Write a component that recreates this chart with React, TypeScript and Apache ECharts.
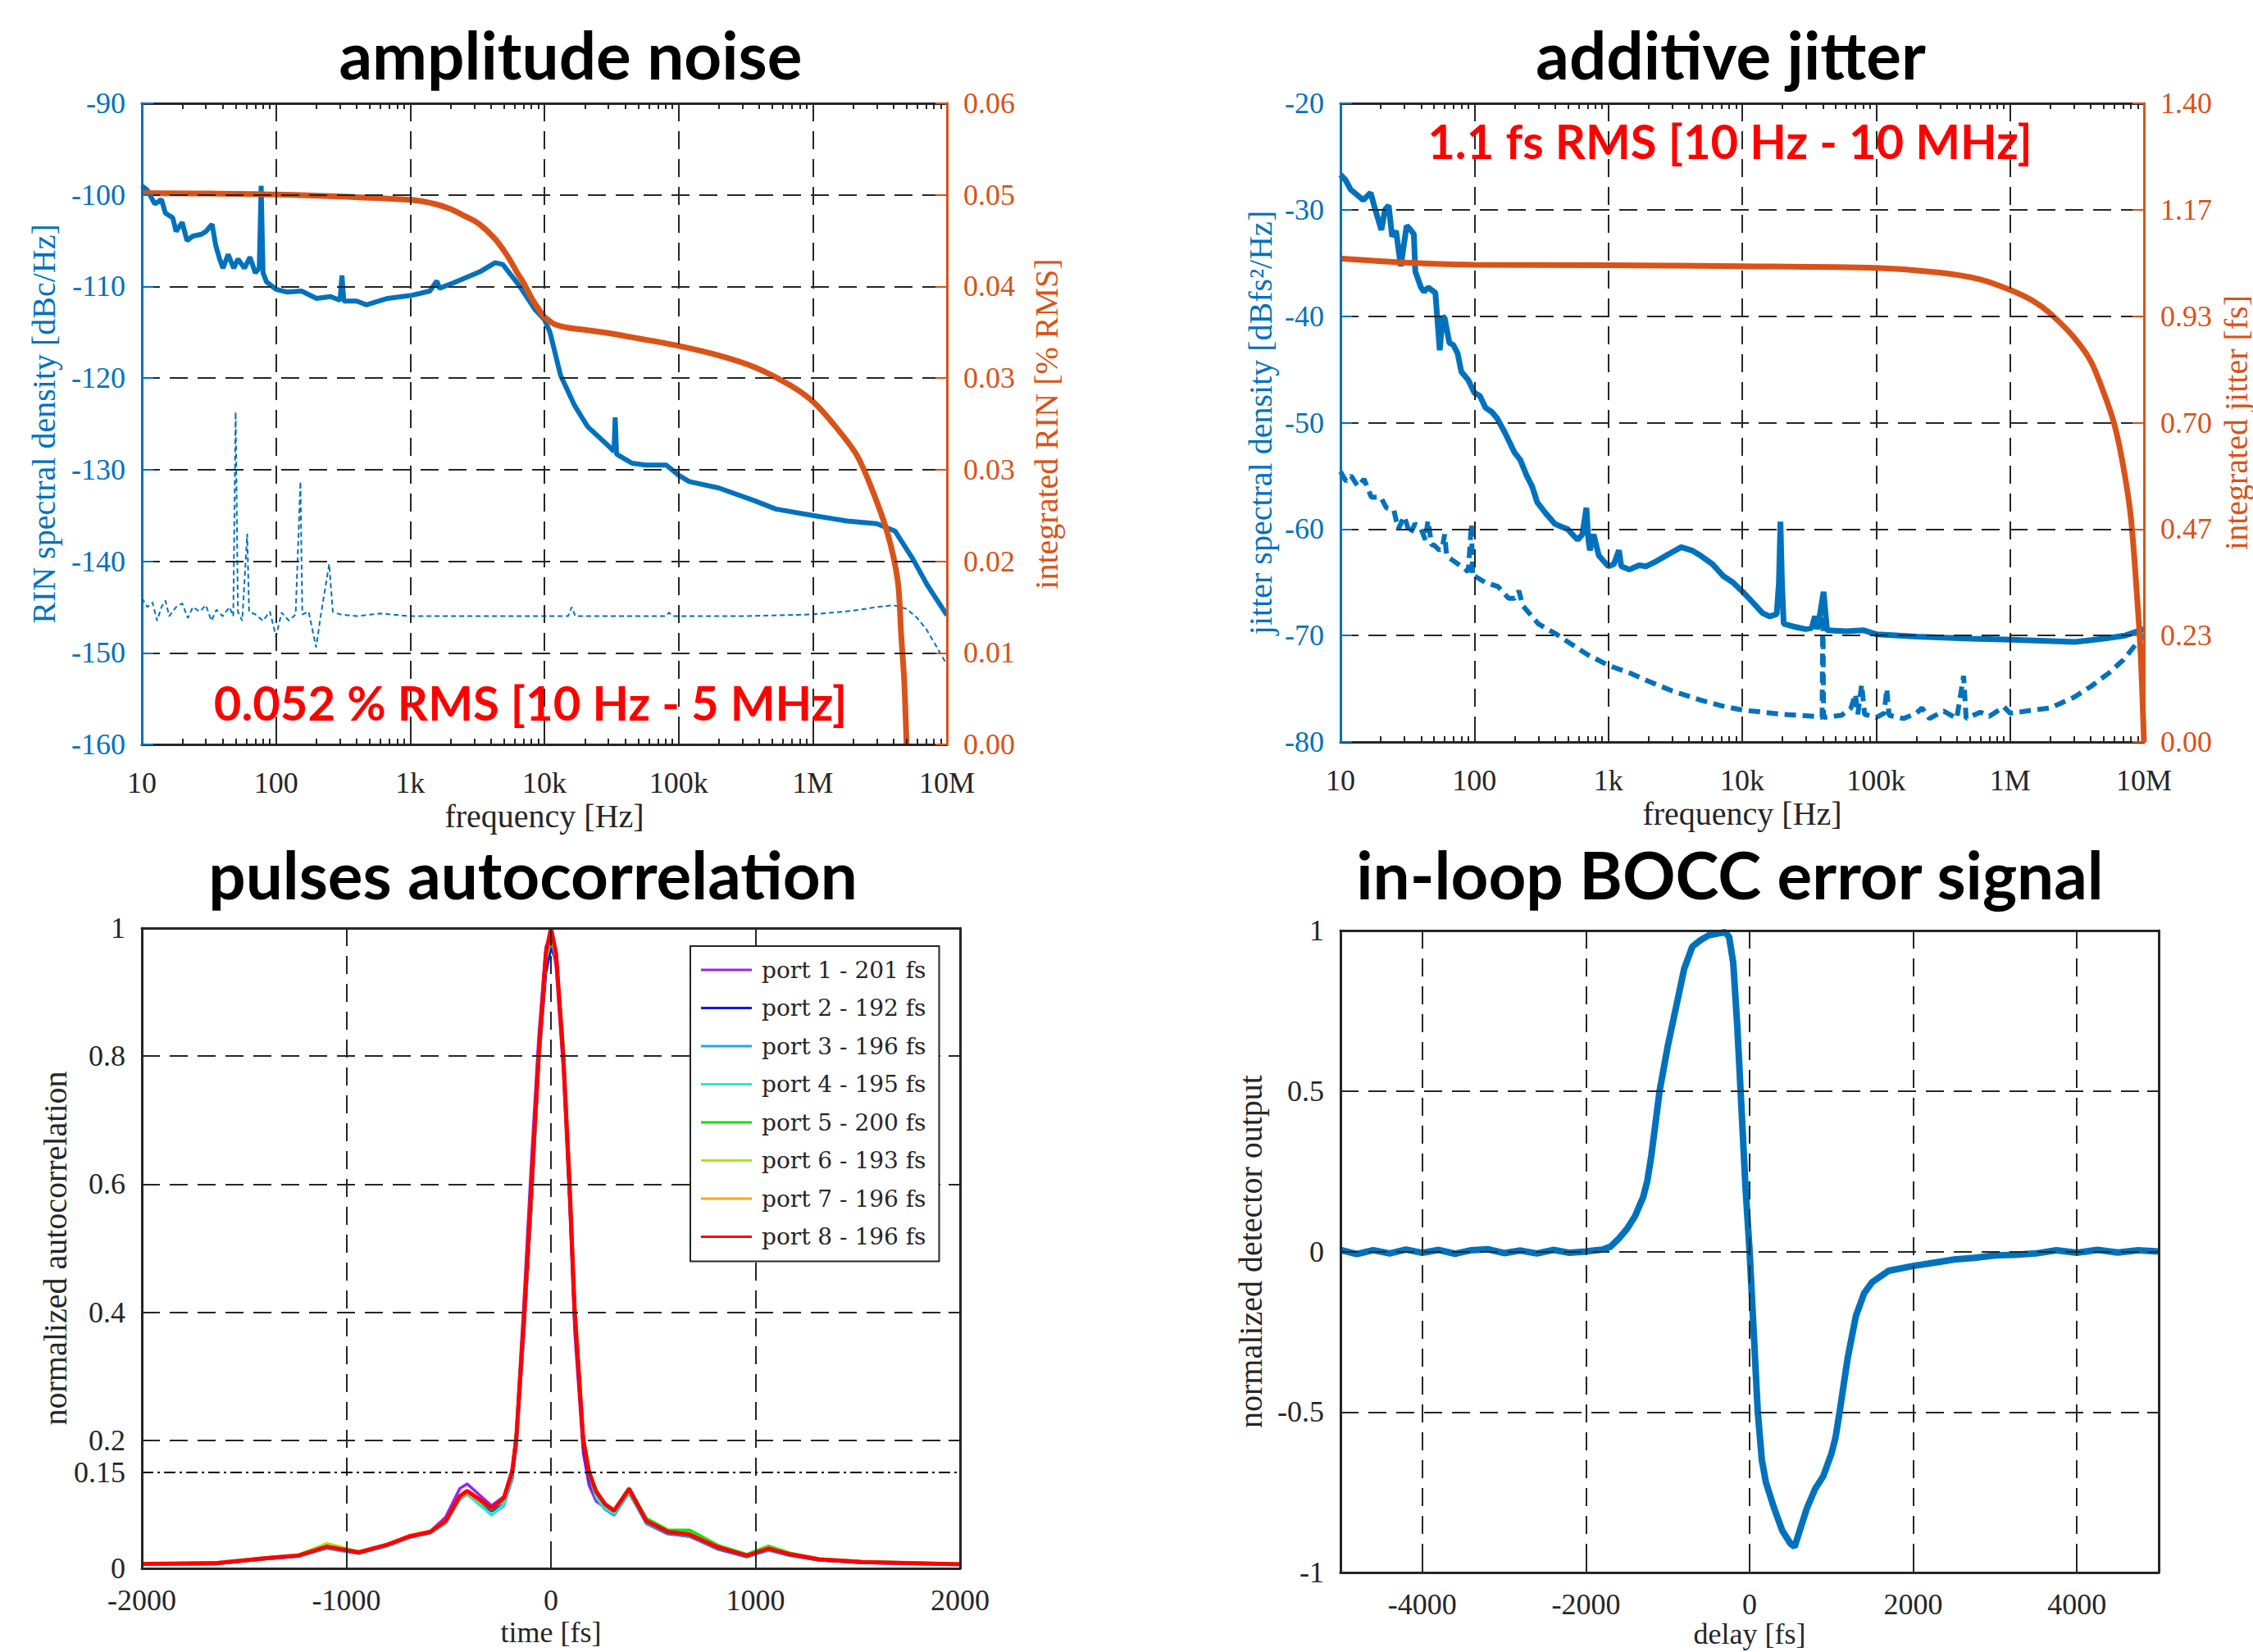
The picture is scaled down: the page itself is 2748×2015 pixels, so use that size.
import React, { useEffect, useRef } from 'react';
import * as echarts from 'echarts';

const BLUE = '#0072BD';
const ORANGE = '#D95319';
const INK = '#262626';
const SERIF = "'Liberation Serif', 'Times New Roman', serif";
const SANS = "Lato, 'Open Sans', sans-serif";

// ---------- tick labels ----------
const FREQ_TICK_LABELS = ['10', '100', '1k', '10k', '100k', '1M', '10M'];
const LOG_DECADES = [1, 2, 3, 4, 5, 6];
const MINOR_MULTS = [2, 3, 4, 5, 6, 7, 8, 9];
const BOCC_TICKS = [-4000, -2000, 0, 2000, 4000];

// ---------- amplitude noise ----------
const RIN_PSD: [number, number][] = [
  [10, -99], [11, -99.5], [12.5, -101], [14, -100.5], [15, -102], [17, -102.5], [18, -104], [20, -103],
  [21.7, -105], [24, -104.5], [27.8, -104.3], [30, -104], [33.4, -103.2], [35.5, -105.5], [38, -107],
  [40.2, -108], [44, -106.5], [48.4, -108], [52, -107], [58.2, -108], [64, -106.8], [70, -108.5],
  [75, -108], [77.5, -99], [80, -108.5], [85, -109.5], [100, -110.3], [120, -110.6], [155, -110.5],
  [200, -111.3], [255, -111.1], [300, -111.5], [310, -108.8], [320, -111.6], [400, -111.6], [470, -112],
  [680, -111.3], [1000, -111], [1400, -110.5], [1580, -109.4], [1650, -110.2], [2100, -109.6],
  [3300, -108.4], [4300, -107.4], [4900, -107.6], [6500, -109.9], [8500, -112.5], [10000, -113.6],
  [11000, -115], [13200, -119.7], [16800, -123], [21000, -125.3], [31000, -127.6], [33000, -128],
  [33700, -124.3], [34500, -128.3], [45000, -129.3], [57000, -129.5], [81000, -129.5], [100000, -130.6],
  [120000, -131.3], [200000, -132], [370000, -133.4], [530000, -134.3], [1e6, -135], [1.8e6, -135.6],
  [3e6, -135.9], [4.1e6, -136.7], [5.6e6, -139.8], [7.2e6, -142.7], [1e7, -145.9],
];
const RIN_FLOOR: [number, number][] = [
  [10, -144], [11, -145], [12, -144.5], [13, -146.5], [14, -145], [15, -144.3], [16, -146], [18, -145],
  [20, -144.6], [22, -146.2], [24, -145], [27, -145.5], [30, -144.8], [33, -146.5], [36, -145.3],
  [40, -146], [45, -145], [48, -146], [50, -123.7], [52, -145.5], [56, -146.5], [61, -137], [63, -145.5],
  [70, -145.8], [80, -146.5], [90, -145.5], [100, -148.2], [110, -145.6], [125, -146.5], [140, -145.8],
  [152, -131.3], [157, -145.8], [175, -145.5], [199, -149.4], [215, -146], [249, -140.3], [265, -145.5],
  [300, -145.8], [400, -146], [600, -145.7], [1000, -146], [3000, -146], [10000, -146], [15000, -146],
  [16000, -145], [17000, -146], [80000, -146], [85000, -145.6], [90000, -146], [300000, -146],
  [1e6, -145.8], [2e6, -145.4], [3e6, -145], [4e6, -144.8], [5e6, -145.2], [6e6, -146.2], [7e6, -147.4],
  [8.5e6, -149.5], [1e7, -151.3],
];
const RIN_INTEGRATED: [number, number][] = [
  [10, 0.0516], [100, 0.05146], [1000, 0.05096], [1500, 0.0506], [2000, 0.0501], [2500, 0.0495],
  [3000, 0.0490], [3500, 0.0484], [4000, 0.0477], [4500, 0.0470], [5000, 0.0462], [5500, 0.0454],
  [6300, 0.0441], [7000, 0.0432], [8000, 0.0418], [9000, 0.0408], [10000, 0.0400], [11000, 0.0396],
  [12000, 0.0393], [15000, 0.0390], [20000, 0.0388], [30000, 0.0385], [50000, 0.0380], [100000, 0.0373],
  [200000, 0.0364], [370000, 0.0353], [680000, 0.0336], [1e6, 0.0321], [1.4e6, 0.0301], [2.1e6, 0.0272],
  [2.7e6, 0.0242], [3.6e6, 0.0198], [4.3e6, 0.0153], [4.55e6, 0.0104], [4.8e6, 0.006], [5e6, 0],
];

// ---------- additive jitter ----------
const JIT_PSD: [number, number][] = [
  [10, -26.7], [10.9, -27.2], [11.9, -28.1], [13, -28.5], [14.8, -29.1], [16.8, -28.4], [18.1, -29.9],
  [20.2, -31.9], [21.5, -30], [22.9, -29.6], [24.3, -32.5], [26, -32], [28.2, -35.3], [31.2, -31.5],
  [33, -31.8], [35.3, -32.3], [36.2, -35.8], [39.9, -37.3], [42, -37.7], [45.2, -37.3], [51.1, -37.8],
  [55.1, -43.2], [58, -40], [60, -40.2], [65, -42.5], [69.6, -42.7], [75, -43.5], [79.8, -45.2],
  [90, -46], [100, -47.2], [110, -47.5], [121, -48.6], [135, -49], [148, -49.6], [170, -51], [199, -52.8],
  [220, -53.5], [246, -55], [270, -56], [295, -57.5], [340, -58.5], [398, -59.5], [450, -59.8],
  [497, -60], [540, -60.5], [590, -61], [640, -60.5], [686, -58], [710, -61], [729, -62], [776, -60.5],
  [850, -62.5], [1000, -63.5], [1100, -63.3], [1200, -62], [1250, -63.5], [1440, -63.8], [1700, -63.4],
  [1910, -63.5], [2300, -63], [2870, -62.3], [3500, -61.7], [4200, -62], [4900, -62.5], [6000, -63.3],
  [7200, -64.4], [8500, -65], [10100, -65.9], [12000, -66.9], [14200, -67.9], [16000, -68.2],
  [18100, -68], [18800, -65], [19300, -59.3], [19800, -65], [20400, -68.9], [25000, -69.2],
  [29600, -69.4], [33000, -69.3], [34900, -68.2], [36500, -69.4], [40500, -65.9], [43000, -69.5],
  [60000, -69.6], [80000, -69.5], [102000, -69.9], [202000, -70.1], [509000, -70.3], [1.02e6, -70.4],
  [3.06e6, -70.6], [5e6, -70.3], [7.25e6, -70], [1e7, -69.4],
];
const JIT_FLOOR: [number, number][] = [
  [10, -54.6], [11, -55.5], [12, -55], [13.5, -56], [15, -55.3], [17, -57], [20, -57], [22, -58],
  [25, -58.2], [27, -60], [30, -58.8], [33, -60.5], [36, -59.5], [40, -60], [43, -61], [45, -59.2],
  [48, -61.5], [50, -61.5], [55, -62], [58, -61.5], [60, -60.5], [62, -62.5], [70, -63], [80, -63.5],
  [90, -64], [95, -59.5], [97, -64.5], [100, -64.4], [120, -65], [150, -65.4], [180, -66.5], [200, -66.5],
  [215, -65.8], [230, -67.2], [300, -68.9], [400, -69.8], [500, -70.6], [700, -71.8], [1000, -72.8],
  [1500, -73.6], [2000, -74.3], [3000, -75.2], [5000, -76.1], [7000, -76.6], [10000, -77], [20000, -77.4],
  [35000, -77.6], [39500, -77.7], [40000, -66.4], [40500, -77.7], [55000, -77.5], [65000, -76.8],
  [70000, -75.5], [73000, -77.4], [78000, -74.6], [82000, -77.4], [100000, -77.7], [115000, -77.3],
  [120000, -75], [125000, -77.5], [160000, -77.8], [200000, -77.3], [220000, -76.8], [250000, -77.8],
  [320000, -77.1], [400000, -77.8], [450000, -73.8], [470000, -77.8], [600000, -77.2], [700000, -77.6],
  [900000, -76.7], [1e6, -77.3], [2e6, -76.8], [3e6, -75.8], [4e6, -74.8], [5.5e6, -73.5], [7e6, -72.3],
  [1e7, -69.9],
];
const JIT_INTEGRATED: [number, number][] = [
  [10, 1.06], [30, 1.051], [100, 1.046], [1000, 1.045], [10000, 1.043], [100000, 1.039], [300000, 1.029],
  [600000, 1.014], [1e6, 0.991], [1.5e6, 0.966], [2e6, 0.939], [3e6, 0.887], [4e6, 0.835], [5e6, 0.766],
  [6e6, 0.697], [7e6, 0.605], [8e6, 0.49], [9e6, 0.294], [9.5e6, 0.179], [1e7, 0],
];

// ---------- pulses autocorrelation ----------
const AC_TIME = [-2000, -1640, -1390, -1235, -1095, -940, -800, -690, -590, -515, -445, -410, -350, -290,
  -230, -190, -170, -130, -95, -60, -25, 0, 25, 60, 91, 116, 158, 186, 221, 265, 309, 382, 467, 572, 677,
  817, 958, 1063, 1168, 1310, 1520, 2000];
const PORT1 = [0.007, 0.008, 0.015, 0.02, 0.033, 0.024, 0.036, 0.05, 0.058, 0.08, 0.125, 0.132, 0.115, 0.098,
  0.112, 0.155, 0.21, 0.43, 0.64, 0.83, 0.97, 0.99, 0.94, 0.78, 0.57, 0.37, 0.18, 0.13, 0.105, 0.095, 0.088,
  0.118, 0.072, 0.055, 0.05, 0.032, 0.019, 0.03, 0.021, 0.013, 0.009, 0.006];
const PORT2 = [0.006, 0.007, 0.015, 0.019, 0.032, 0.024, 0.036, 0.049, 0.056, 0.072, 0.11, 0.118, 0.1, 0.09,
  0.1, 0.14, 0.19, 0.38, 0.57, 0.79, 0.93, 0.97, 0.95, 0.8, 0.58, 0.39, 0.19, 0.14, 0.11, 0.095, 0.087, 0.12,
  0.07, 0.054, 0.05, 0.03, 0.018, 0.029, 0.02, 0.013, 0.009, 0.006];
const PORT3 = [0.006, 0.007, 0.015, 0.019, 0.031, 0.023, 0.035, 0.048, 0.055, 0.07, 0.108, 0.116, 0.1, 0.084,
  0.098, 0.14, 0.19, 0.38, 0.58, 0.79, 0.95, 0.98, 0.96, 0.81, 0.6, 0.41, 0.2, 0.145, 0.11, 0.092, 0.083,
  0.118, 0.07, 0.055, 0.05, 0.031, 0.018, 0.028, 0.02, 0.013, 0.009, 0.006];
const PORT4 = [0.006, 0.008, 0.015, 0.02, 0.033, 0.024, 0.036, 0.049, 0.056, 0.071, 0.109, 0.117, 0.1, 0.083,
  0.1, 0.145, 0.195, 0.39, 0.59, 0.8, 0.95, 0.99, 0.96, 0.81, 0.6, 0.41, 0.2, 0.148, 0.112, 0.094, 0.086,
  0.12, 0.073, 0.058, 0.058, 0.034, 0.02, 0.032, 0.022, 0.014, 0.01, 0.006];
const PORT5 = [0.007, 0.009, 0.017, 0.021, 0.038, 0.026, 0.038, 0.051, 0.058, 0.074, 0.112, 0.12, 0.106, 0.092,
  0.108, 0.15, 0.21, 0.41, 0.61, 0.81, 0.96, 0.99, 0.96, 0.82, 0.62, 0.42, 0.21, 0.155, 0.122, 0.1, 0.092,
  0.126, 0.078, 0.06, 0.06, 0.036, 0.022, 0.035, 0.024, 0.015, 0.011, 0.007];
const PORT6 = [0.007, 0.009, 0.016, 0.021, 0.039, 0.026, 0.037, 0.05, 0.057, 0.073, 0.112, 0.12, 0.106, 0.093,
  0.108, 0.148, 0.2, 0.39, 0.58, 0.79, 0.95, 0.99, 0.95, 0.8, 0.59, 0.4, 0.2, 0.15, 0.12, 0.1, 0.09, 0.123,
  0.075, 0.057, 0.055, 0.034, 0.021, 0.033, 0.023, 0.014, 0.01, 0.007];
const PORT7 = [0.007, 0.008, 0.016, 0.02, 0.034, 0.025, 0.037, 0.052, 0.058, 0.075, 0.112, 0.118, 0.106, 0.094,
  0.108, 0.15, 0.2, 0.4, 0.6, 0.8, 0.96, 1.0, 0.96, 0.8, 0.6, 0.4, 0.2, 0.15, 0.12, 0.1, 0.09, 0.123, 0.075,
  0.057, 0.054, 0.034, 0.02, 0.031, 0.022, 0.014, 0.01, 0.007];
const PORT8 = [0.007, 0.008, 0.016, 0.02, 0.034, 0.025, 0.037, 0.05, 0.057, 0.074, 0.113, 0.121, 0.108, 0.094,
  0.11, 0.15, 0.2, 0.4, 0.6, 0.8, 0.96, 1.0, 0.96, 0.8, 0.6, 0.4, 0.2, 0.15, 0.12, 0.1, 0.09, 0.124, 0.074,
  0.057, 0.053, 0.033, 0.02, 0.031, 0.022, 0.014, 0.01, 0.0065];
const PORT_VALUES = [PORT1, PORT2, PORT3, PORT4, PORT5, PORT6, PORT7, PORT8];
const PORT_NAMES = ['port 1 - 201 fs', 'port 2 - 192 fs', 'port 3 - 196 fs', 'port 4 - 195 fs',
  'port 5 - 200 fs', 'port 6 - 193 fs', 'port 7 - 196 fs', 'port 8 - 196 fs'];
const PORT_COLORS = ['#A020F0', '#1414E6', '#1EA8F0', '#30E8C0', '#10E010', '#A8E800', '#FFA500', '#FF0000'];
const THRESHOLD = 0.15;

// ---------- BOCC error signal ----------
const BOCC: [number, number][] = [
  [-5000, 0.005], [-4800, -0.008], [-4600, 0.004], [-4400, -0.006], [-4200, 0.006], [-4000, -0.004],
  [-3800, 0.005], [-3600, -0.007], [-3400, 0.004], [-3200, 0.007], [-3000, -0.005], [-2800, 0.003],
  [-2600, -0.006], [-2400, 0.005], [-2200, -0.004], [-2000, 0], [-1900, 0.003], [-1800, 0.006],
  [-1700, 0.015], [-1600, 0.04], [-1500, 0.07], [-1400, 0.11], [-1300, 0.17], [-1250, 0.22], [-1200, 0.3],
  [-1150, 0.4], [-1100, 0.5], [-1000, 0.64], [-900, 0.76], [-800, 0.88], [-700, 0.95], [-600, 0.97],
  [-500, 0.985], [-400, 0.99], [-300, 0.995], [-250, 0.98], [-200, 0.9], [-150, 0.7], [-100, 0.45],
  [-50, 0.2], [0, 0], [50, -0.25], [100, -0.5], [150, -0.65], [200, -0.72], [300, -0.8], [400, -0.87],
  [500, -0.91], [550, -0.92], [600, -0.88], [700, -0.8], [800, -0.74], [900, -0.7], [1000, -0.63],
  [1050, -0.58], [1100, -0.5], [1200, -0.33], [1300, -0.2], [1400, -0.13], [1500, -0.095], [1700, -0.06],
  [2000, -0.045], [2250, -0.035], [2500, -0.025], [2750, -0.02], [3000, -0.012], [3250, -0.01],
  [3500, -0.006], [3750, 0.004], [4000, -0.004], [4250, 0.005], [4500, -0.003], [4750, 0.004], [5000, 0],
];

const MINOR_LOG_TICKS = LOG_DECADES.flatMap((d) => MINOR_MULTS.map((m) => d + Math.log10(m)));
const gridDash = { color: INK, width: 2, type: [22, 12] as number[] };

function freqLabel(v: number) {
  return FREQ_TICK_LABELS[Math.round(Math.log10(v)) - 1] ?? '';
}

function logX(gridIndex: number, position: string, main: boolean) {
  return {
    type: 'log', gridIndex, position, min: 10, max: 1e7, logBase: 10, z: 5,
    axisLine: { show: true, onZero: false, lineStyle: { color: INK, width: 3 } },
    axisTick: { show: true, inside: true, length: 14, lineStyle: { color: INK, width: 2 } },
    axisLabel: main
      ? { show: true, margin: 29, color: INK, fontFamily: SERIF, fontSize: 36, formatter: freqLabel }
      : { show: false },
    splitLine: main ? { show: true, lineStyle: gridDash, showMinLine: false, showMaxLine: false } : { show: false },
    name: main ? 'frequency [Hz]' : '', nameLocation: 'middle', nameGap: 67, nameMoveOverlap: false,
    nameTextStyle: { color: INK, fontFamily: SERIF, fontSize: 40 },
  };
}
function minorX(gridIndex: number, position: string) {
  return {
    type: 'value', gridIndex, position, min: 1, max: 7, z: 5,
    axisLine: { show: false, onZero: false }, axisLabel: { show: false }, splitLine: { show: false },
    axisTick: { show: true, inside: true, length: 7, customValues: MINOR_LOG_TICKS, lineStyle: { color: INK, width: 2 } },
  };
}
function linX(gridIndex: number, position: string, main: boolean, min: number, max: number, extra: any, name: string) {
  return {
    type: 'value', gridIndex, position, min, max, z: 5, ...extra.scale,
    axisLine: { show: true, onZero: false, lineStyle: { color: INK, width: 3 } },
    axisTick: { show: true, inside: true, length: 14, lineStyle: { color: INK, width: 2 }, ...extra.tick },
    axisLabel: main
      ? { show: true, margin: 21, color: INK, fontFamily: SERIF, fontSize: 36, lineHeight: 36,
          formatter: (v: number) => String(v), ...extra.label }
      : { show: false },
    splitLine: main
      ? { show: true, lineStyle: gridDash, showMinLine: !!extra.edgeLines, showMaxLine: !!extra.edgeLines }
      : { show: false },
    name: main ? name : '', nameLocation: 'middle', nameGap: extra.nameGap ?? 59, nameMoveOverlap: false,
    nameTextStyle: { color: INK, fontFamily: SERIF, fontSize: 36, lineHeight: 36 },
  };
}
function valY(o: any) {
  const color = o.color ?? INK;
  return {
    type: 'value', gridIndex: o.grid, position: o.position, min: o.min, max: o.max, interval: o.interval, z: 6,
    axisLine: { show: true, onZero: false, lineStyle: { color: o.lineColor ?? color, width: 3 } },
    axisTick: { show: true, inside: true, length: 14, lineStyle: { color, width: 2 } },
    axisLabel: o.labels
      ? { show: true, margin: 20, color, fontFamily: SERIF, fontSize: 36, formatter: o.formatter ?? ((v: number) => String(v)) }
      : { show: false },
    splitLine: o.split ? { show: true, lineStyle: gridDash, showMinLine: false, showMaxLine: false } : { show: false },
    name: o.name ?? '', nameLocation: 'middle', nameRotate: 90, nameGap: o.nameGap ?? 90,
    nameTextStyle: { color, fontFamily: SERIF, fontSize: 40 },
  };
}

function titleText(text: string, x: number, y: number, size: number, fill: string) {
  return {
    type: 'text', x, y, z: 20,
    style: { text, fontFamily: SANS, fontWeight: 'bold', fontSize: size, fill,
      align: 'center', verticalAlign: 'middle', textAlign: 'center', textVerticalAlign: 'middle' },
  };
}

function buildOption() {
  const line = (name: string, data: any, xi: number, yi: number, color: string, width: number, type: any = 'solid', extra: any = {}) => ({
    name, type: 'line', data, xAxisIndex: xi, yAxisIndex: yi, showSymbol: false, symbol: 'none',
    lineStyle: { color, width, type }, itemStyle: { color }, emphasis: { disabled: true }, z: 3, ...extra,
  });

  const portSeries = PORT_VALUES.map((vals, i) =>
    line(PORT_NAMES[i], AC_TIME.map((t, k) => [t, vals[k]]), 8, 4, PORT_COLORS[i], i === 7 ? 5 : 3.5, 'solid',
      i === 7
        ? {
            markLine: {
              silent: true, symbol: 'none', animation: false,
              lineStyle: { color: '#000', width: 2, type: [14, 5, 3, 5] },
              label: { show: true, position: 'start', formatter: String(THRESHOLD), color: INK, fontFamily: SERIF, fontSize: 36, distance: 20 },
              data: [{ yAxis: THRESHOLD }],
            },
          }
        : {}));

  return {
    animation: false,
    backgroundColor: '#fff',
    grid: [
      { left: 173, top: 126, width: 982, height: 782, outerBoundsMode: 'none' },
      { left: 1635, top: 126, width: 980, height: 779, outerBoundsMode: 'none' },
      { left: 173, top: 1132, width: 998, height: 781, outerBoundsMode: 'none' },
      { left: 1635, top: 1135, width: 998, height: 783, outerBoundsMode: 'none' },
    ],
    xAxis: [
      logX(0, 'bottom', true), logX(0, 'top', false), minorX(0, 'bottom'), minorX(0, 'top'),
      logX(1, 'bottom', true), logX(1, 'top', false), minorX(1, 'bottom'), minorX(1, 'top'),
      linX(2, 'bottom', true, -2000, 2000, { scale: { interval: 1000 }, nameGap: 60 }, 'time [fs]'),
      linX(2, 'top', false, -2000, 2000, { scale: { interval: 1000 } }, ''),
      linX(3, 'bottom', true, -5000, 5000, { tick: { customValues: BOCC_TICKS }, label: { customValues: BOCC_TICKS }, edgeLines: true, nameGap: 57 }, 'delay [fs]'),
      linX(3, 'top', false, -5000, 5000, { tick: { customValues: BOCC_TICKS } }, ''),
    ],
    yAxis: [
      valY({ grid: 0, position: 'left', min: -160, max: -90, interval: 10, color: BLUE, labels: true, split: true,
        name: 'RIN spectral density [dBc/Hz]', nameGap: 100 }),
      valY({ grid: 0, position: 'right', min: 0, max: 0.06, interval: 0.06 / 7, color: ORANGE, labels: true,
        formatter: (v: number) => v.toFixed(2), name: 'integrated RIN [% RMS]', nameGap: 101 }),
      valY({ grid: 1, position: 'left', min: -80, max: -20, interval: 10, color: BLUE, labels: true, split: true,
        name: 'jitter spectral density [dBfs²/Hz]', nameGap: 78 }),
      valY({ grid: 1, position: 'right', min: 0, max: 1.4, interval: 1.4 / 6, color: ORANGE, labels: true,
        formatter: (v: number) => v.toFixed(2), name: 'integrated jitter [fs]', nameGap: 92 }),
      valY({ grid: 2, position: 'left', min: 0, max: 1, interval: 0.2, labels: true, split: true,
        name: 'normalized autocorrelation', nameGap: 86 }),
      valY({ grid: 2, position: 'right', min: 0, max: 1, interval: 0.2, labels: false }),
      valY({ grid: 3, position: 'left', min: -1, max: 1, interval: 0.5, labels: true, split: true,
        name: 'normalized detector output', nameGap: 90 }),
      valY({ grid: 3, position: 'right', min: -1, max: 1, interval: 0.5, labels: false }),
    ],
    legend: {
      orient: 'vertical', left: 842, top: 1154, data: PORT_NAMES, icon: 'rect', itemWidth: 62, itemHeight: 3,
      itemGap: 18.5, padding: [15, 16, 16, 13], borderColor: INK, borderWidth: 2, backgroundColor: '#fff',
      selectedMode: false, z: 10,
      textStyle: { fontFamily: "'DejaVu Serif', serif", fontSize: 28, color: INK, padding: [0, 0, 0, 7] },
    },
    series: [
      line('RIN floor', RIN_FLOOR, 0, 0, BLUE, 2, [6, 4]),
      line('RIN', RIN_PSD, 0, 0, BLUE, 6),
      line('integrated RIN', RIN_INTEGRATED, 0, 1, ORANGE, 7, 'solid', { smooth: 0.3, z: 4 }),
      line('jitter floor', JIT_FLOOR, 4, 2, BLUE, 6, [14, 8]),
      line('jitter', JIT_PSD, 4, 2, BLUE, 7),
      line('integrated jitter', JIT_INTEGRATED, 4, 3, ORANGE, 7, 'solid', { smooth: 0.3, z: 4 }),
      ...portSeries,
      line('BOCC', BOCC, 10, 6, BLUE, 8),
    ],
    graphic: [
      titleText('amplitude noise', 696, 66, 80, '#000'),
      titleText('additive jitter', 2111, 66, 80, '#000'),
      titleText('pulses autocorrelation', 650, 1066, 80, '#000'),
      titleText('in-loop BOCC error signal', 2110, 1066, 80, '#000'),
      titleText('0.052 % RMS [10 Hz - 5 MHz]', 647, 856, 58, '#FF0000'),
      titleText('1.1 fs RMS [10 Hz - 10 MHz]', 2110, 171, 58, '#FF0000'),
    ],
  };
}

export default function App() {
  const ref = useRef<HTMLDivElement>(null);
  useEffect(() => {
    document.body.style.margin = '0';
    if (!ref.current) return;
    const chart = echarts.init(ref.current, undefined, { renderer: 'svg' });
    chart.setOption(buildOption() as any);
    return () => chart.dispose();
  }, []);
  return <div ref={ref} style={{ width: 2748, height: 2015, background: '#fff' }} />;
}
